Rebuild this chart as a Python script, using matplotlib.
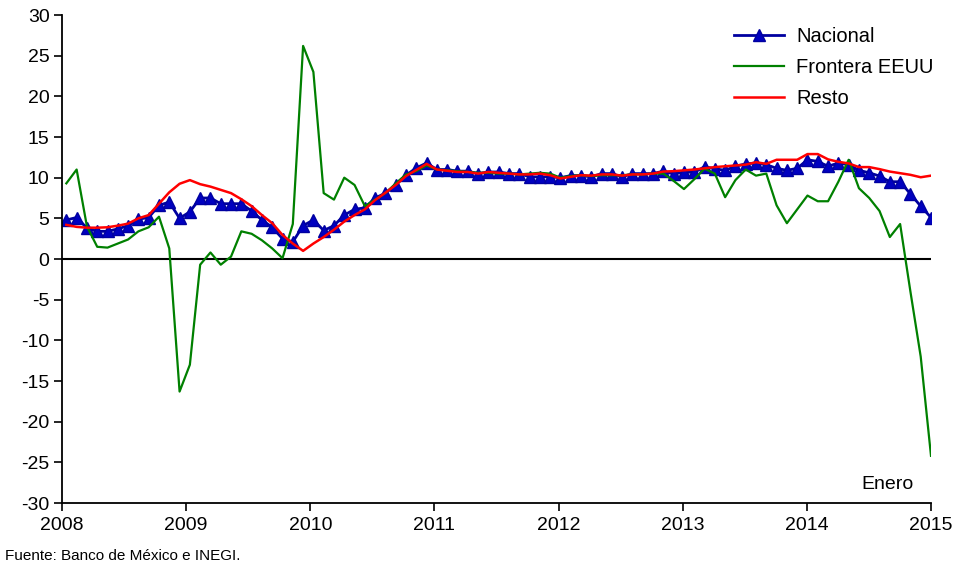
import matplotlib
matplotlib.use("Agg")
import matplotlib.pyplot as plt
import numpy as np

plt.rcParams['font.family'] = ['Liberation Sans', 'DejaVu Sans']

# Monthly data, Jan 2008 - Jan 2015
start_year = 2008
nacional = [4.8, 5.1, 3.8, 3.4, 3.4, 3.7, 4.1, 4.9, 5.1, 6.6, 7.0, 5.0,
            5.8, 7.5, 7.5, 6.8, 6.8, 6.8, 5.9, 4.8, 3.9, 2.5, 2.1, 4.1,
            4.8, 3.5, 4.1, 5.4, 6.1, 6.3, 7.5, 8.1, 9.1, 10.3, 11.2, 11.8,
            11.0, 11.0, 10.8, 10.8, 10.5, 10.7, 10.7, 10.5, 10.5, 10.1, 10.1, 10.1,
            10.0, 10.25, 10.25, 10.1, 10.5, 10.5, 10.1, 10.5, 10.5, 10.5, 10.8, 10.45,
            10.7, 10.65, 11.35, 11.1, 10.9, 11.4, 11.7, 11.8, 11.6, 11.15, 10.9, 11.15,
            12.2, 12.0, 11.4, 11.8, 11.6, 10.9, 10.6, 10.2, 9.5, 9.5, 8.0, 6.5,
            5.1]
frontera = [9.3, 11.0, 4.0, 1.5, 1.4, 1.9, 2.4, 3.4, 3.9, 5.2, 1.3, -16.3,
            -13.0, -0.7, 0.8, -0.7, 0.3, 3.4, 3.1, 2.3, 1.3, 0.1, 4.3, 26.2,
            23.0, 8.1, 7.3, 10.0, 9.1, 6.5, 7.3, 8.1, 9.3, 10.4, 10.8, 11.5,
            11.0, 10.9, 10.8, 10.7, 10.6, 10.6, 10.5, 10.5, 10.4, 10.5, 10.6, 10.5,
            10.0, 10.2, 10.3, 10.2, 10.3, 10.3, 10.3, 10.4, 10.4, 10.5, 10.5, 9.6,
            8.6, 9.8, 11.1, 10.5, 7.6, 9.7, 11.0, 10.25, 10.5, 6.6, 4.4, 6.1,
            7.8, 7.1, 7.1, 9.5, 12.2, 8.7, 7.5, 5.9, 2.7, 4.3, -4.0, -12.0,
            -24.2]
resto = [4.2, 3.95, 3.85, 3.85, 3.9, 4.1, 4.35, 5.0, 5.4, 6.8, 8.2, 9.25,
         9.7, 9.2, 8.9, 8.5, 8.1, 7.35, 6.5, 5.4, 4.4, 2.95, 1.9, 1.0,
         1.9, 2.7, 3.6, 4.6, 5.4, 6.1, 7.25, 8.15, 9.1, 10.2, 10.95, 11.7,
         11.0, 10.85, 10.7, 10.7, 10.5, 10.7, 10.6, 10.5, 10.4, 10.4, 10.5, 10.3,
         9.9, 10.1, 10.3, 10.25, 10.4, 10.4, 10.25, 10.4, 10.4, 10.5, 10.75, 10.8,
         10.9, 11.0, 11.15, 11.3, 11.4, 11.5, 11.6, 11.9, 11.7, 12.2, 12.2, 12.2,
         12.9, 12.9, 12.25, 11.95, 11.75, 11.3, 11.3, 11.05, 10.75, 10.55, 10.35, 10.05,
         10.25]
years = list(range(2008, 2016))
yticks = list(range(-30, 31, 5))
series_labels = ["Nacional", "Frontera EEUU", "Resto"]

# category-style placement: first month slightly right of the 2008 tick,
# last month (Jan 2015) at the 2015 tick
n = len(nacional)
x = np.linspace(start_year + 0.035, 2015.0, n)

fig = plt.figure(figsize=(9.6, 5.67), dpi=100)
ax = fig.add_axes([62/960, 1 - 503/567, (931 - 62)/960, (503 - 15)/567])

ax.axhline(0, color='black', lw=1.5, zorder=1)
ax.plot(x, nacional, color='#0000A0', lw=2, marker='^', markersize=8,
        markeredgecolor='#0000A0', markerfacecolor='#0000C0', label=series_labels[0], zorder=2)
ax.plot(x, frontera, color='#008000', lw=1.6, label=series_labels[1], zorder=3)
ax.plot(x, resto, color='#FF0000', lw=1.8, label=series_labels[2], zorder=4)

ax.set_xlim(2008, 2015)
ax.set_ylim(-30, 30)
ax.set_xticks(years)
ax.set_xticklabels([str(y) for y in years])
ax.set_yticks(yticks)
ax.set_yticklabels([str(t) for t in yticks])
for s in ['top', 'right']:
    ax.spines[s].set_visible(False)
for s in ['left', 'bottom']:
    ax.spines[s].set_color('black')
    ax.spines[s].set_linewidth(1.3)
ax.tick_params(axis='both', direction='out', length=6, width=1.2, labelsize=14, colors='black')
ax.tick_params(axis='x', pad=4)
ax.tick_params(axis='y', pad=3)

leg = ax.legend(loc='upper right', bbox_to_anchor=(1.024, 1.012), frameon=False, fontsize=14.5,
                handlelength=2.5, handletextpad=0.6, labelspacing=0.6)

ax.text(2014.86, -28.3, "Enero", fontsize=14, ha='right', va='baseline')
fig.text(5/960, 1 - 560/567, "Fuente: Banco de México e INEGI.", fontsize=11, ha='left', va='baseline')

fig.savefig("out.png", dpi=100)
